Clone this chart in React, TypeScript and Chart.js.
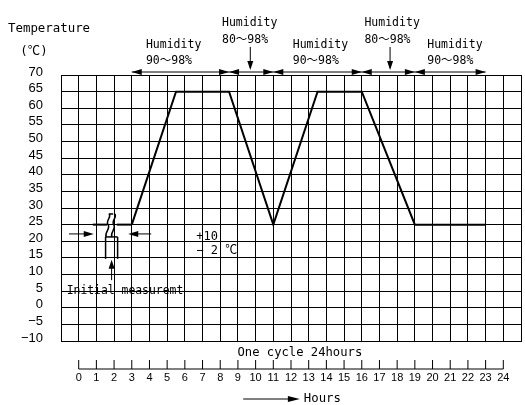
import React, { useEffect, useRef } from 'react';
import { Chart, registerables } from 'chart.js';

Chart.register(...registerables);

// ---- data ----
const hours = [3, 5.5, 8.5, 11, 13.5, 16, 19, 23];
const temperatures = [25, 65, 65, 25, 65, 65, 25, 25];

const hourTickLabels = [0, 1, 2, 3, 4, 5, 6, 7, 8, 9, 10, 11, 12, 13, 14, 15, 16, 17, 18, 19, 20, 21, 22, 23, 24];

const humidityStarts = [3, 8.5, 11, 16, 19];
const humidityEnds = [8.5, 11, 16, 19, 23];
const humidityRanges = ['90～98%', '80～98%', '90～98%', '80～98%', '90～98%'];
const humidityLabelHours = [3.8, 8.1, 12.1, 16.15, 19.7];
const humidityDropHours = [null, 9.7, null, 17.6, null];

// initial measurement sketch (hours / °C)
const initLineHours = [0.8, 3];
const initLevel = 25;
const initBoxHours = [1.52, 2.2];
const initBoxTemps = [21.3, 14.7];
const initArrowHour = 1.86;
const initArrowFrom = 8.3;
const sideArrowTemp = 22.2;
const sideArrowLeft = [-0.55, 0.85];
const sideArrowRight = [4.1, 2.8];

const MONO = '"DejaVu Sans Mono", "Noto Sans CJK JP", monospace';

function head(ctx: CanvasRenderingContext2D, tx: number, ty: number, dx: number, dy: number, len = 10, half = 3) {
  const bx = tx - dx * len;
  const by = ty - dy * len;
  const px = -dy * half;
  const py = dx * half;
  ctx.beginPath();
  ctx.moveTo(tx, ty);
  ctx.lineTo(bx + px, by + py);
  ctx.lineTo(bx - px, by - py);
  ctx.closePath();
  ctx.fill();
}

function line(ctx: CanvasRenderingContext2D, x1: number, y1: number, x2: number, y2: number) {
  ctx.beginPath();
  ctx.moveTo(x1, y1);
  ctx.lineTo(x2, y2);
  ctx.stroke();
}

function text(ctx: CanvasRenderingContext2D, s: string, x: number, y: number, size: number, align: CanvasTextAlign = 'left') {
  ctx.font = `${size}px ${MONO}`;
  ctx.textAlign = align;
  ctx.textBaseline = 'middle';
  ctx.fillText(s, x, y);
}

const annotations = {
  id: 'annotations',
  afterDraw(chart: any) {
    const { ctx, chartArea, scales } = chart;
    const X = (v: number) => scales.x.getPixelForValue(v);
    const Y = (v: number) => scales.y.getPixelForValue(v);
    ctx.save();
    ctx.fillStyle = '#000';
    ctx.strokeStyle = '#000';
    ctx.lineWidth = 1;

    // titles
    text(ctx, 'Temperature', 8, 29, 12.4);
    text(ctx, '(℃)', 34, 52, 12.4, 'center');

    // humidity arrows
    const lineY = chartArea.top - 3;
    for (let i = 0; i < humidityStarts.length; i++) {
      const a = X(humidityStarts[i]);
      const b = X(humidityEnds[i]);
      line(ctx, a, lineY, b, lineY);
      head(ctx, a, lineY, -1, 0);
      head(ctx, b, lineY, 1, 0);
      const drop = humidityDropHours[i];
      const lx = X(humidityLabelHours[i]);
      if (drop !== null) {
        text(ctx, 'Humidity', lx, 23, 11.5);
        text(ctx, humidityRanges[i], lx, 40, 11.5);
        const dx = X(drop);
        line(ctx, dx, 47, dx, lineY - 4);
        head(ctx, dx, lineY - 2, 0, 1, 9, 3);
      } else {
        text(ctx, 'Humidity', lx, 45, 11.5);
        text(ctx, humidityRanges[i], lx, 61, 11.5);
      }
    }

    // initial measurement sketch
    const yl = Y(initLevel);
    ctx.lineWidth = 2;
    line(ctx, X(initLineHours[0]), yl, X(1.6), yl);
    line(ctx, X(2.15), yl, X(initLineHours[1]), yl);
    const top = Y(28.2);
    const bot = Y(initBoxTemps[0]);
    ctx.lineWidth = 1.5;
    ctx.beginPath();
    ctx.moveTo(X(1.7), top);
    ctx.lineTo(X(1.95), top);
    ctx.stroke();
    // two wavy break lines
    for (const off of [0, 0.32]) {
      ctx.beginPath();
      ctx.moveTo(X(1.72 + off), top);
      ctx.bezierCurveTo(X(1.88 + off), Y(27.3), X(1.5 + off), Y(26.2), X(1.66 + off), Y(25));
      ctx.bezierCurveTo(X(1.82 + off), Y(23.8), X(1.45 + off), Y(22.8), X(1.55 + off), bot);
      ctx.stroke();
    }
    line(ctx, X(initBoxHours[0]), bot, X(initBoxHours[1]), bot);
    line(ctx, X(initBoxHours[0]), bot, X(initBoxHours[0]), Y(initBoxTemps[1]));
    line(ctx, X(initBoxHours[1]), bot, X(initBoxHours[1]), Y(initBoxTemps[1]));
    ctx.lineWidth = 1;
    const ax = X(initArrowHour);
    line(ctx, ax, Y(initArrowFrom), ax, Y(initBoxTemps[1]) + 6);
    head(ctx, ax, Y(initBoxTemps[1]) + 1, 0, -1, 9, 3);
    const sy = Y(sideArrowTemp);
    line(ctx, X(sideArrowLeft[0]), sy, X(sideArrowLeft[1]) - 4, sy);
    head(ctx, X(sideArrowLeft[1]), sy, 1, 0, 10, 3);
    line(ctx, X(sideArrowRight[0]), sy, X(sideArrowRight[1]) + 4, sy);
    head(ctx, X(sideArrowRight[1]), sy, -1, 0, 10, 3);

    text(ctx, 'Initial measuremt', X(-0.68), Y(5), 11.4);
    text(ctx, '+10', X(6.65), Y(21.3), 12);
    text(ctx, '− 2 ℃', X(6.65), Y(17.1), 12);

    // bottom hours axis
    const baseY = 369;
    text(ctx, 'One cycle 24hours', X(12.5), 353, 12.2, 'center');
    line(ctx, X(hourTickLabels[0]), baseY, X(hourTickLabels[hourTickLabels.length - 1]), baseY);
    ctx.font = `11px "Liberation Sans Narrow", "Liberation Sans", sans-serif`;
    ctx.textAlign = 'center';
    ctx.textBaseline = 'middle';
    for (const h of hourTickLabels) {
      const px = X(h);
      line(ctx, px, baseY, px, baseY - 9);
      ctx.fillText(String(h), px, 378);
    }
    const hy = 399;
    line(ctx, X(9.3), hy, X(12.5) - 8, hy);
    head(ctx, X(12.5), hy, 1, 0, 12, 3);
    text(ctx, 'Hours', X(12.5) + 4, hy, 12.3);

    ctx.restore();
  },
};

export default function App() {
  const ref = useRef<HTMLCanvasElement | null>(null);
  useEffect(() => {
    if (!ref.current) return;
    const chart = new Chart(ref.current, {
      type: 'line',
      data: {
        datasets: [
          {
            data: hours.map((h, i) => ({ x: h, y: temperatures[i] })),
            borderColor: '#000',
            borderWidth: 2,
            pointRadius: 0,
            tension: 0,
            fill: false,
          },
        ],
      },
      options: {
        responsive: false,
        animation: false,
        layout: { padding: { left: 0, top: 75, right: 4, bottom: 64 } },
        plugins: { legend: { display: false }, tooltip: { enabled: false } },
        scales: {
          x: {
            type: 'linear',
            min: -1,
            max: 25,
            ticks: { stepSize: 1, display: false, maxTicksLimit: 100, autoSkip: false },
            grid: { color: '#000', lineWidth: 1, drawTicks: false },
            border: { display: true, color: '#000' },
            afterFit: (s: any) => {
              s.height = 0;
            },
          },
          y: {
            min: -10,
            max: 70,
            ticks: {
              stepSize: 5,
              maxTicksLimit: 100,
              autoSkip: false,
              color: '#000',
              padding: 18,
              labelOffset: -3,
              font: { family: 'Liberation Sans', size: 13 },
              callback: (v: any) => String(v).replace('-', '−'),
            },
            grid: { color: '#000', lineWidth: 1, drawTicks: false },
            border: { display: true, color: '#000' },
            afterFit: (s: any) => {
              s.width = 61;
            },
          },
        },
      },
      plugins: [annotations],
    });
    return () => chart.destroy();
  }, []);
  return (
    <div style={{ position: 'absolute', left: 0, top: 0, width: 525, height: 405, background: '#fff' }}>
      <canvas ref={ref} width={525} height={405} />
    </div>
  );
}
